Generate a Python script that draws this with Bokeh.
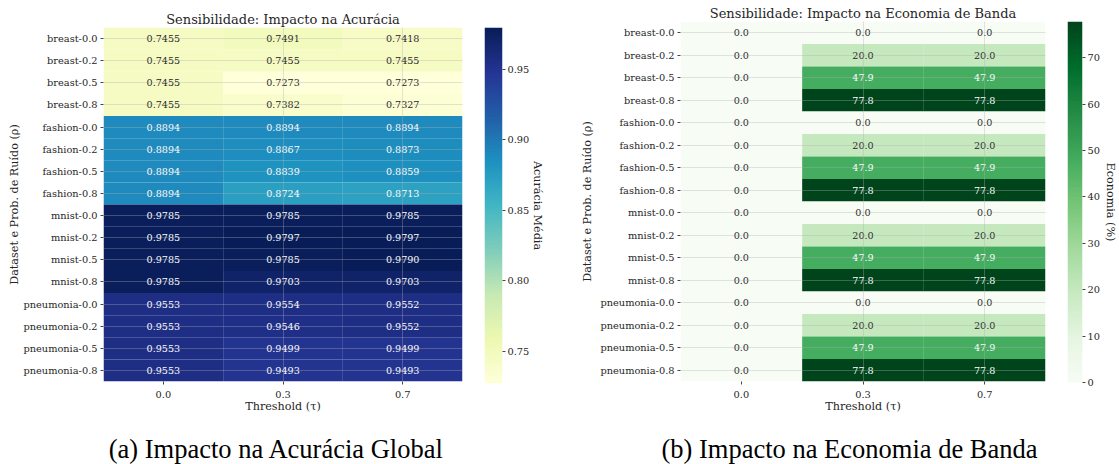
import numpy as np
from bokeh.plotting import figure
from bokeh.models import (ColumnDataSource, LinearColorMapper, FixedTicker,
                          NumeralTickFormatter, FactorRange, Range1d, Label)
from bokeh.layouts import row, column
from bokeh.core.properties import value
from bokeh.embed import file_html
from bokeh.resources import INLINE

# ---------------- data ----------------
row_labels = ["breast-0.0", "breast-0.2", "breast-0.5", "breast-0.8",
              "fashion-0.0", "fashion-0.2", "fashion-0.5", "fashion-0.8",
              "mnist-0.0", "mnist-0.2", "mnist-0.5", "mnist-0.8",
              "pneumonia-0.0", "pneumonia-0.2", "pneumonia-0.5", "pneumonia-0.8"]
thresholds = ["0.0", "0.3", "0.7"]

acc_tau_00 = [0.7455, 0.7455, 0.7455, 0.7455, 0.8894, 0.8894, 0.8894, 0.8894,
              0.9785, 0.9785, 0.9785, 0.9785, 0.9553, 0.9553, 0.9553, 0.9553]
acc_tau_03 = [0.7491, 0.7455, 0.7273, 0.7382, 0.8894, 0.8867, 0.8839, 0.8724,
              0.9785, 0.9797, 0.9785, 0.9703, 0.9554, 0.9546, 0.9499, 0.9493]
acc_tau_07 = [0.7418, 0.7455, 0.7273, 0.7327, 0.8894, 0.8873, 0.8859, 0.8713,
              0.9785, 0.9797, 0.9790, 0.9703, 0.9552, 0.9552, 0.9499, 0.9493]

eco_tau_00 = [0.0, 0.0, 0.0, 0.0, 0.0, 0.0, 0.0, 0.0,
              0.0, 0.0, 0.0, 0.0, 0.0, 0.0, 0.0, 0.0]
eco_tau_03 = [0.0, 20.0, 47.9, 77.8, 0.0, 20.0, 47.9, 77.8,
              0.0, 20.0, 47.9, 77.8, 0.0, 20.0, 47.9, 77.8]
eco_tau_07 = [0.0, 20.0, 47.9, 77.8, 0.0, 20.0, 47.9, 77.8,
              0.0, 20.0, 47.9, 77.8, 0.0, 20.0, 47.9, 77.8]

acc_ticks = [0.75, 0.80, 0.85, 0.90, 0.95]
eco_ticks = [0, 10, 20, 30, 40, 50, 60, 70]

YLGNBU = ["#ffffd9", "#edf8b1", "#c7e9b4", "#7fcdbb", "#41b6c4",
          "#1d91c0", "#225ea8", "#253494", "#081d58"]
GREENS = ["#f7fcf5", "#e5f5e0", "#c7e9c0", "#a1d99b", "#74c476",
          "#41ab5d", "#238b45", "#006d2c", "#00441b"]

FONT = "DejaVu Serif"
TXT = "#262626"
TICK_FS = "9.8px"
LABEL_FS = "11.2px"


def interp(colors, n=256):
    rgb = np.array([[int(c[i:i + 2], 16) for i in (1, 3, 5)] for c in colors], float)
    xs = np.linspace(0, 1, len(colors))
    t = np.linspace(0, 1, n)
    out = np.stack([np.interp(t, xs, rgb[:, k]) for k in range(3)], axis=1)
    return ["#%02x%02x%02x" % tuple(int(round(v)) for v in c) for c in out]


def text_color(v, lo, hi, pal):
    idx = int(np.clip((v - lo) / (hi - lo), 0, 1) * (len(pal) - 1))
    c = pal[idx]
    rgb = np.array([int(c[i:i + 2], 16) for i in (1, 3, 5)]) / 255.0
    lin = np.where(rgb <= 0.03928, rgb / 12.92, ((rgb + 0.055) / 1.055) ** 2.4)
    lum = 0.2126 * lin[0] + 0.7152 * lin[1] + 0.0722 * lin[2]
    return TXT if lum > 0.408 else "white"


def style_axis(ax):
    ax.axis_line_color = None
    ax.major_tick_out = 3
    ax.major_tick_in = 0
    ax.minor_tick_line_color = None
    ax.major_tick_line_color = "#444444"
    ax.major_label_standoff = 3
    ax.major_label_text_font = FONT
    ax.major_label_text_font_size = TICK_FS
    ax.major_label_text_color = TXT
    ax.axis_label_text_font = FONT
    ax.axis_label_text_font_size = LABEL_FS
    ax.axis_label_text_font_style = "normal"
    ax.axis_label_text_color = TXT


def heatmap(cols, fmt, pal, title, w, h, bl, br, bt, bb, tstand, ystand):
    vals = [v for c in cols for v in c]
    lo, hi = min(vals), max(vals)
    mapper = LinearColorMapper(palette=pal, low=lo, high=hi)
    xs, ys, vs, labs, tcs = [], [], [], [], []
    for t, c in zip(thresholds, cols):
        for r, v in zip(row_labels, c):
            xs.append(t); ys.append(r); vs.append(v)
            labs.append(fmt.format(v)); tcs.append(text_color(v, lo, hi, pal))
    src = ColumnDataSource(dict(x=xs, y=ys, v=vs, lab=labs, tc=tcs))
    p = figure(x_range=FactorRange(*thresholds), y_range=FactorRange(*row_labels[::-1]),
               width=w, height=h, min_border_left=bl, min_border_right=br,
               min_border_top=bt, min_border_bottom=bb, output_backend="svg",
               toolbar_location=None, title=title, frame_align=False)
    p.rect("x", "y", 1, 1, source=src, fill_color={"field": "v", "transform": mapper},
           line_color=None)
    p.text("x", "y", text="lab", source=src, text_color="tc", text_align="center",
           text_baseline="middle", text_font=value(FONT), text_font_size="9.6px")
    p.title.text_font = FONT
    p.title.text_font_size = "13px"
    p.title.text_font_style = "normal"
    p.title.align = "center"
    p.title.text_color = TXT
    p.title.standoff = tstand
    p.outline_line_color = None
    p.grid.grid_line_color = "#b0b0b0"
    p.grid.grid_line_alpha = 0.35
    p.grid.level = "overlay"
    style_axis(p.xaxis)
    style_axis(p.yaxis)
    p.xaxis.major_label_standoff = 6
    p.xaxis.axis_label = "Threshold (τ)"
    p.xaxis.axis_label_standoff = -1
    p.yaxis.axis_label = "Dataset e Prob. de Ruído (ρ)"
    p.yaxis.axis_label_standoff = ystand
    return p, mapper, lo, hi


def colorbar(mapper, lo, hi, ticks, fmt, label, w, h, bl, br, bt, bb, lstand):
    grad = np.linspace(lo, hi, 256).reshape(256, 1)
    p = figure(x_range=Range1d(0, 1), y_range=Range1d(lo, hi), width=w, height=h,
               min_border_left=bl, min_border_right=br,
               min_border_top=bt, min_border_bottom=bb, y_axis_location="right",
               output_backend="svg", toolbar_location=None, frame_align=False)
    p.image(image=[grad], x=0, y=lo, dw=1, dh=hi - lo, color_mapper=mapper)
    p.xaxis.visible = False
    p.grid.visible = False
    p.outline_line_color = None
    ax = p.yaxis
    ax.ticker = FixedTicker(ticks=ticks)
    ax.formatter = NumeralTickFormatter(format=fmt)
    style_axis(ax)
    ax.major_label_standoff = 2
    ax.axis_label = label
    ax.axis_label_standoff = lstand
    return p


def caption(text, w, h, cx, cy):
    p = figure(width=w, height=h, x_range=Range1d(0, w), y_range=Range1d(0, h),
               output_backend="svg", toolbar_location=None, min_border=0,
               frame_align=False)
    p.axis.visible = False
    p.grid.visible = False
    p.outline_line_color = None
    p.add_layout(Label(x=cx, y=cy, text=text, text_align="center",
                       text_baseline="middle", text_font="Liberation Serif",
                       text_font_size="26.5px", text_color="black"))
    return p


pal_a = interp(YLGNBU)
pal_b = interp(GREENS)

fa, ma, loa, hia = heatmap([acc_tau_00, acc_tau_03, acc_tau_07], "{:.4f}", pal_a,
                           "Sensibilidade: Impacto na Acurácia",
                           472, 415, 103, 10, 27, 32, 2, -1)
ca = colorbar(ma, loa, hia, acc_ticks, "0.00", "Acurácia Média",
              106, 415, 12, 76, 27, 32, -1)
fb, mb, lob, hib = heatmap([eco_tau_00, eco_tau_03, eco_tau_07], "{:.1f}", pal_b,
                           "Sensibilidade: Impacto na Economia de Banda",
                           477, 415, 101, 10, 21, 33, 1, 3)
cb = colorbar(mb, lob, hib, eco_ticks, "0", "Economia (%)",
              64, 415, 12, 35, 21, 33, 1)

cap_a = caption("(a) Impacto na Acurácia Global", 574, 49, 276, 16)
cap_b = caption("(b) Impacto na Economia de Banda", 545, 49, 275, 16)

layout = column(row(fa, ca, fb, cb), row(cap_a, cap_b))
open("out.html", "w").write(file_html(layout, INLINE))
